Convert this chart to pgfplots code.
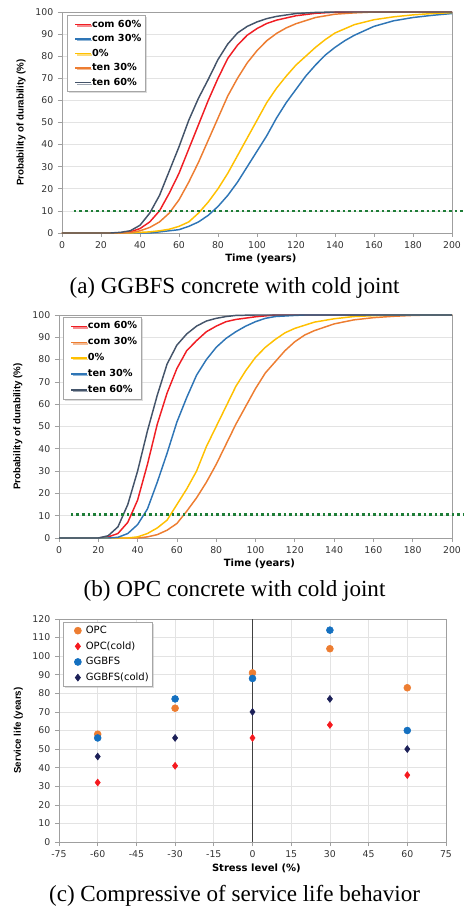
\documentclass[border=0pt]{standalone}
\usepackage{pgfplots}
\pgfplotsset{compat=1.18}
\usepackage{fontspec}
\setmainfont{DejaVu Sans}
\newfontfamily\lsans{Liberation Sans}
\newfontfamily\capfont{Liberation Serif}
\usetikzlibrary{shadows}
\definecolor{cred}{RGB}{240,30,36}
\definecolor{cblue}{RGB}{46,117,182}
\definecolor{cyellow}{RGB}{255,192,0}
\definecolor{corange}{RGB}{237,125,49}
\definecolor{cdark}{RGB}{68,84,106}
\definecolor{dgreen}{RGB}{30,125,55}
\definecolor{mblue}{RGB}{20,112,192}
\definecolor{mnavy}{RGB}{28,32,88}
\definecolor{mred}{RGB}{245,25,30}
\newcommand\bbox[1]{\pgfpathrectangle{\pgfpoint{0pt}{-0.5pt}}{\pgfpoint{#1}{1pt}}\pgfusepath{}}
\pgfplotsset{
  base/.style={
    scale only axis, anchor=south west, clip=false,
    axis line style={gray!75, line width=0.6pt},
    tick style={gray!75, line width=0.5pt}, tick align=outside, major tick length=3pt,
    xtick pos=bottom, ytick pos=left,
    grid style={gray!22, line width=0.5pt},
    /pgf/number format/assume math mode=true,
    ticklabel style={font=\fontsize{7}{8}\selectfont, text=black!80},
    xlabel style={font=\bfseries\fontsize{7.5}{9}\selectfont, at={(axis description cs:0.51,0)}, anchor=center, yshift=-19.5pt},
    ylabel style={font=\lsans\bfseries\fontsize{7.3}{8}\selectfont, at={(axis description cs:-0.105,0.5)}, anchor=center},
    legend cell align=left,
    legend style={anchor=north west, draw=gray!70, fill=white, line width=0.5pt,
      drop shadow={fill=gray!55, shadow xshift=1.2pt, shadow yshift=-1.2pt},
      inner xsep=2.5pt, inner ysep=1.5pt},
  },
  cdf/.style={base,
    xmin=0, xmax=200, ymin=0, ymax=100,
    xtick={0,20,...,200}, ytick={0,10,...,100},
    ymajorgrids,
    xlabel={Time (years)}, ylabel={Probability of durability (\%)},
    legend style={font=\bfseries\fontsize{7.3}{8}\selectfont, row sep=0.4pt,
      nodes={inner xsep=0.4pt, inner ysep=1.8pt}},
    legend image code/.code={\bbox{15pt}\draw[#1, line width=1.1pt, line cap=butt] (3.5pt,0pt) -- (15pt,0pt);},
  },
  cl/.style={line width=1.1pt, no markers},
}
\begin{document}
\begin{tikzpicture}
\useasboundingbox (0,0) rectangle (348.75pt,687pt);
% ---------------- (a) ----------------
\begin{axis}[cdf, at={(46.5pt,512.25pt)}, width=292.5pt, height=165.75pt,
  legend style={at={(axis description cs:0.013,0.986)}}]
\addplot[cl, cred] coordinates {(0,0) (30,0) (35,0.5) (40,2) (45,5) (50,10) (55,18) (60,27) (65,38) (70,49) (75,60) (80,70) (85,79) (90,85) (95,89.5) (100,92.5) (105,94.8) (110,96.3) (120,98.3) (130,99.4) (140,99.9) (150,100) (200,100)};
\addlegendentry{com 60\%}
\addplot[cl, cblue] coordinates {(0,0) (45,0) (50,0.5) (55,1) (60,1.5) (65,3) (70,5) (75,8) (80,12) (85,17) (90,23) (95,30) (100,37) (105,44) (110,52) (115,59) (120,65) (125,71) (130,76) (135,80.5) (140,84) (145,87) (150,89.5) (160,93.5) (170,96) (180,97.5) (190,98.5) (200,99.3)};
\addlegendentry{com 30\%}
\addplot[cl, cyellow] coordinates {(0,0) (35,0) (40,0.3) (45,0.5) (50,1) (55,1.7) (60,3) (65,5) (70,9) (75,14) (80,20) (85,27) (90,35) (95,43) (100,51) (105,59) (110,65.5) (115,71) (120,76) (125,80) (130,84) (135,87.5) (140,90.5) (150,94.3) (160,96.5) (170,97.8) (180,98.7) (190,99.3) (200,99.7)};
\addlegendentry{0\%}
\addplot[cl, corange] coordinates {(0,0) (30,0) (35,0.2) (40,1) (45,2.5) (50,5) (55,9) (60,15) (65,23) (70,32) (75,42) (80,52) (85,62) (90,70) (95,77) (100,82.5) (105,87) (110,90.3) (115,92.8) (120,94.7) (130,97.5) (140,99) (150,99.6) (160,100) (200,100)};
\addlegendentry{ten 30\%}
\addplot[cl, cdark] coordinates {(0,0) (25,0) (30,0.3) (35,1) (40,3.5) (45,9) (50,17) (55,28) (60,39) (65,51) (70,61) (75,69.5) (80,78.5) (85,85.5) (90,90.5) (95,93.5) (100,95.5) (105,97) (110,98) (120,99.3) (130,99.8) (140,100) (200,100)};
\addlegendentry{ten 60\%}
\addplot[forget plot, dgreen, line width=1.7pt, dash pattern=on 2pt off 2.2pt] coordinates {(6,10) (206,10)};
\end{axis}
\node[font=\capfont\fontsize{17.3}{20}\selectfont, anchor=center] at (175.9pt,471pt) {(a) GGBFS concrete with cold joint};
% ---------------- (b) ----------------
\begin{axis}[cdf, at={(44.25pt,283.5pt)}, width=294.75pt, height=167.25pt,
  legend style={at={(axis description cs:0.01,0.991)}, row sep=1.4pt}]
\addplot[cl, cred] coordinates {(0,0) (20,0) (25,0.5) (30,2) (35,7) (40,17) (45,33) (50,51) (55,65) (60,76) (65,84) (70,88.5) (75,92.5) (80,95) (85,97) (90,98) (100,99.2) (110,100) (200,100)};
\addlegendentry{com 60\%}
\addplot[cl, corange] coordinates {(0,0) (40,0) (45,0.5) (50,1.5) (55,3.5) (60,6.5) (65,12) (70,18) (75,25) (80,33) (85,42) (90,51) (95,59) (100,67) (105,74) (110,79) (115,84) (120,88) (125,91) (130,93) (140,96) (150,97.8) (160,98.8) (170,99.4) (180,99.8) (190,100) (200,100)};
\addlegendentry{com 30\%}
\addplot[cl, cyellow] coordinates {(0,0) (35,0) (40,0.5) (45,2) (50,4.5) (55,8) (60,15) (65,22) (70,30) (75,41) (80,50) (85,59) (90,68) (95,75) (100,81) (105,85.5) (110,89) (115,92) (120,94) (130,96.8) (140,98.3) (150,99.3) (160,99.7) (170,100) (200,100)};
\addlegendentry{0\%}
\addplot[cl, cblue] coordinates {(0,0) (25,0) (30,0.3) (35,2) (40,6) (45,13) (50,25) (55,38) (60,52) (65,63) (70,73) (75,80) (80,85.5) (85,89.5) (90,92.5) (95,95) (100,97) (105,98.5) (110,99.3) (120,99.8) (125,100) (200,100)};
\addlegendentry{ten 30\%}
\addplot[cl, cdark] coordinates {(0,0) (20,0) (25,1) (30,5) (35,15) (40,30) (45,48) (50,64) (55,78) (60,86.5) (65,91.5) (70,95) (75,97.3) (80,98.5) (85,99.3) (90,99.8) (100,100) (200,100)};
\addlegendentry{ten 60\%}
\addplot[forget plot, dgreen, line width=1.7pt, dash pattern=on 2pt off 2.2pt] coordinates {(6,10.5) (206,10.5)};
\end{axis}
\node[font=\capfont\fontsize{17.3}{20}\selectfont, anchor=center] at (175.9pt,243.75pt) {(b) OPC concrete with cold joint};
% ---------------- (c) ----------------
\begin{axis}[base, at={(44.25pt,55.5pt)}, width=290.25pt, height=167.25pt,
  xmin=-75, xmax=75, ymin=0, ymax=120,
  xtick={-75,-60,...,75}, ytick={0,10,...,120},
  xmajorgrids, ymajorgrids,
  extra x ticks={0}, extra x tick labels={},
  extra x tick style={major grid style={black!75, line width=0.6pt}},
  xlabel={Stress level (\%)}, ylabel={Service life (years)},
  legend style={at={(axis description cs:0.01,0.987)}, font=\fontsize{7.5}{9}\selectfont, row sep=2pt,
    nodes={inner xsep=0.5pt, inner ysep=1.3pt}},
  legend image code/.code={\bbox{14pt}\draw[#1] plot coordinates {(8.5pt,0pt)};}]
\addplot[only marks, mark=*, mark size=2.6pt, corange] coordinates {(-60,58) (-30,72) (0,91) (30,104) (60,83)};
\addlegendentry{OPC}
\addplot[only marks, mark=diamond*, mark size=2.6pt, mred] coordinates {(-60,32) (-30,41) (0,56) (30,63) (60,36)};
\addlegendentry{OPC(cold)}
\addplot[only marks, mark=*, mark size=2.6pt, mblue] coordinates {(-60,56) (-30,77) (0,88) (30,114) (60,60)};
\addlegendentry{GGBFS}
\addplot[only marks, mark=diamond*, mark size=2.6pt, mnavy] coordinates {(-60,46) (-30,56) (0,70) (30,77) (60,50)};
\addlegendentry{GGBFS(cold)}
\end{axis}
\node[font=\capfont\fontsize{17.3}{20}\selectfont, anchor=center] at (175.9pt,15pt) {(c) Compressive of service life behavior};
\end{tikzpicture}
\end{document}
